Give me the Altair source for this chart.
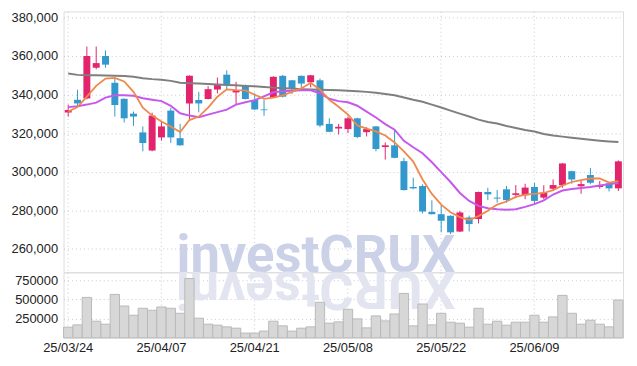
import altair as alt
import pandas as pd

# ---------------- data ----------------
dates = [
    "25/03/24", "25/03/25", "25/03/26", "25/03/27", "25/03/28", "25/03/31",
    "25/04/01", "25/04/02", "25/04/03", "25/04/04", "25/04/07", "25/04/08",
    "25/04/09", "25/04/10", "25/04/11", "25/04/14", "25/04/15", "25/04/16",
    "25/04/17", "25/04/18", "25/04/21", "25/04/22", "25/04/23", "25/04/24",
    "25/04/25", "25/04/28", "25/04/29", "25/04/30", "25/05/02", "25/05/07",
    "25/05/08", "25/05/09", "25/05/12", "25/05/13", "25/05/14", "25/05/15",
    "25/05/16", "25/05/19", "25/05/20", "25/05/21", "25/05/22", "25/05/23",
    "25/05/26", "25/05/27", "25/05/28", "25/05/29", "25/05/30", "25/06/02",
    "25/06/04", "25/06/05", "25/06/09", "25/06/10", "25/06/11", "25/06/12",
    "25/06/13", "25/06/16", "25/06/17", "25/06/18", "25/06/19", "25/06/20",
]

opens = [
    330700, 337300, 338000, 353900, 360000, 346100, 337800, 330100, 320400, 311000,
    317800, 331700, 317400, 335400, 337200, 337700, 342600, 350300, 341100, 344400,
    337200, 332300, 338500, 349700, 347400, 349700, 346400, 347400, 324800, 322400,
    322100, 327700, 320500, 323500, 312800, 313700, 305500, 292100, 292600, 279200,
    278000, 277200, 269000, 276300, 275500, 289500, 286600, 290900, 288000, 287800,
    292100, 286600, 291200, 293000, 300300, 292500, 298300, 292100, 294000, 291400,
]
highs = [
    334800, 342500, 364900, 364900, 362900, 348300, 338000, 331200, 323500, 330600,
    326000, 333200, 324800, 350000, 341400, 344400, 348800, 352600, 346600, 345200,
    340600, 337200, 349500, 350200, 347600, 349900, 350200, 348300, 327700, 324800,
    328600, 328000, 323100, 323700, 315200, 321800, 307200, 296900, 293500, 285200,
    282700, 277400, 279700, 277300, 289700, 291700, 290500, 292600, 293100, 293800,
    294300, 293000, 296000, 304500, 300500, 295200, 302000, 295200, 294200, 305900,
]
lows = [
    328600, 333700, 337500, 353100, 353900, 328600, 325500, 323800, 310600, 310600,
    316100, 314900, 313500, 327000, 330800, 337500, 340600, 342800, 334600, 337500,
    332000, 329000, 338300, 338500, 340300, 343100, 343700, 323100, 320500, 319300,
    320000, 317400, 318300, 310600, 306300, 307000, 290300, 290900, 278400, 277900,
    268600, 267700, 268800, 269100, 273200, 285300, 284000, 284000, 286300, 285800,
    283200, 285800, 290000, 291700, 293800, 288600, 293500, 291200, 289800, 290000,
]
closes = [
    332000, 335400, 360000, 356300, 355500, 334600, 327700, 328600, 314900, 329100,
    323500, 317800, 313700, 349700, 335400, 342800, 344900, 345400, 342300, 337700,
    332300, 331900, 349200, 338900, 343100, 345700, 350000, 324000, 320700, 323300,
    327700, 318000, 322100, 311800, 313700, 307200, 290500, 291400, 279400, 278000,
    274600, 268600, 278900, 272900, 289500, 288300, 286100, 285300, 288850, 291800,
    284900, 289200, 293100, 304300, 296000, 293600, 294300, 293100, 291400, 305400,
]
volumes = [
    138000, 168000, 526000, 216000, 177000, 565000, 414000, 293000, 384000, 358000,
    401000, 384000, 319000, 772000, 255000, 177000, 164000, 142000, 125000, 61000,
    61000, 87000, 216000, 155000, 87000, 125000, 142000, 462000, 190000, 207000,
    371000, 246000, 129000, 285000, 220000, 310000, 578000, 155000, 440000, 168000,
    319000, 203000, 190000, 138000, 384000, 177000, 216000, 164000, 203000, 203000,
    293000, 203000, 272000, 552000, 319000, 177000, 229000, 177000, 142000, 492000,
]
ma5 = [
    331200, 333500, 338900, 344500, 348300, 348600, 346800, 341400, 333200, 329100,
    326000, 323500, 320600, 326800, 328600, 333200, 338900, 342700, 342300, 342200,
    339900, 337800, 338400, 339600, 341400, 343200, 346100, 342500, 337300, 333700,
    329600, 324000, 322400, 320900, 318800, 315200, 310600, 305300, 296000, 288500,
    283000, 279000, 276500, 275000, 277000, 279800, 283000, 284600, 287000, 288200,
    288500, 289000, 290500, 292900, 294700, 295700, 296500, 296500, 294400, 295200,
]
ma20 = [
    333500, 334000, 334800, 335800, 338400, 339600, 339700, 339400, 338100, 337300,
    336600, 334200, 330300, 329100, 328300, 329600, 330900, 332200, 334800, 336000,
    337100, 339100, 341200, 341700, 342000, 342200, 342200, 340700, 337800, 336600,
    336000, 334200, 331200, 328100, 324700, 321800, 316000, 312700, 309600, 304900,
    299800, 294700, 289000, 284900, 282300, 281100, 280600, 280300, 280600, 281800,
    283200, 285200, 288200, 290300, 291100, 291600, 292100, 292900, 293600, 294200,
]
ma60 = [
    350900, 350200, 350000, 350000, 349900, 349800, 349600, 349200, 348500, 348000,
    347700, 347100, 346100, 345900, 345700, 345500, 345200, 345000, 344800, 344500,
    344300, 343900, 343600, 343300, 343100, 342800, 342600, 342500, 342400, 342200,
    342000, 341700, 341400, 340900, 340300, 339600, 338500, 337300, 336300, 334800,
    333300, 331700, 330100, 328600, 327000, 325800, 325000, 323700, 322700, 321600,
    320900, 319600, 318800, 318200, 317600, 317100, 316600, 316100, 315700, 315400,
]

label_dates = ["25/03/24", "25/04/07", "25/04/21", "25/05/08", "25/05/22", "25/06/09"]
price_ticks = [260000, 280000, 300000, 320000, 340000, 360000, 380000]
volume_ticks = [250000, 500000, 750000]
watermark = "investCRUX"

# ---------------- styling ----------------
UP = "#e2246c"
DOWN = "#3399cc"
W, H_PRICE, H_VOL = 564, 263, 66
AXIS_FONT = "Liberation Sans"

df = pd.DataFrame({
    "d": dates, "o": opens, "h": highs, "l": lows, "c": closes, "v": volumes,
    "ma5": ma5, "ma20": ma20, "ma60": ma60,
})
df["dir"] = ["up" if c >= o else "down" for o, c in zip(opens, closes)]

xscale = alt.Scale(type="band", domain=dates, paddingInner=0, paddingOuter=0)
grid_axis = dict(grid=True, gridColor="#c5c9dd", gridDash=[1, 3], gridWidth=1,
                 ticks=False, domain=False, title=None, bandPosition=0.5)

x_price = alt.X("d:O", scale=xscale, sort=dates,
                axis=alt.Axis(values=label_dates, labels=False, **grid_axis))
x_vol = alt.X("d:O", scale=xscale, sort=dates,
              axis=alt.Axis(values=label_dates, labels=True, labelAngle=0,
                            labelFont=AXIS_FONT, labelFontSize=13, labelColor="#222",
                            labelPadding=4, labelOverlap=False, **grid_axis))

yscale = alt.Scale(domain=[247900, 383100], nice=False, zero=False)
y_axis = alt.Axis(values=price_ticks, format=",d", title=None, grid=True,
                  gridColor="#c5c9dd", gridDash=[1, 3], ticks=False, domain=False,
                  labelFont=AXIS_FONT, labelFontSize=13, labelColor="#222", labelPadding=6)
color = alt.Color("dir:N", scale=alt.Scale(domain=["up", "down"], range=[UP, DOWN]), legend=None)

base = alt.Chart(df)

# watermark (main text)
wm = alt.Chart(pd.DataFrame({"t": [watermark]})).mark_text(
    font="Roboto", fontWeight="bold", fontSize=53, color="#cbd1e7",
    align="center", baseline="alphabetic"
).encode(x=alt.value(254.4), y=alt.value(H_PRICE), text="t:N")

wick = base.mark_rule(strokeWidth=1).encode(
    x=x_price, y=alt.Y("l:Q", scale=yscale, axis=y_axis), y2="h:Q", color=color)
body = base.mark_bar(size=7).encode(x=x_price, y="o:Q", y2="c:Q", color=color)
l60 = base.mark_line(color="#7f7f7f", strokeWidth=2).encode(x=x_price, y="ma60:Q")
l20 = base.mark_line(color="#c658ec", strokeWidth=2).encode(x=x_price, y="ma20:Q")
l5 = base.mark_line(color="#f0884c", strokeWidth=1.8).encode(x=x_price, y="ma5:Q")

price = alt.layer(wm, wick, body, l60, l20, l5).properties(width=W, height=H_PRICE)

# watermark reflection: each letter mirrored below the panel line
adv = {"i": 0.259, "n": 0.556, "v": 0.510, "e": 0.537, "s": 0.523, "t": 0.332,
       "C": 0.669, "R": 0.642, "U": 0.660, "X": 0.637}
fs = 53
cap = 0.711 * fs
total = sum(adv[ch] for ch in watermark) * fs
cur = 254.4 - total / 2
refl_layers = []
for ch in watermark:
    w = adv[ch] * fs
    cx = cur + w / 2
    cur += w
    if ch == "C":
        # C is symmetric top/bottom: its mirror is the letter itself
        mk = dict(angle=0)
        ypos = cap
    else:
        mk = dict(angle=180)
        ypos = 0
    refl_layers.append(
        alt.Chart(pd.DataFrame({"t": [ch]})).mark_text(
            font="Roboto", fontWeight="bold", fontSize=fs, color="#e2e5f0",
            align="center", baseline="alphabetic", **mk
        ).encode(x=alt.value(cx), y=alt.value(ypos), text="t:N")
    )

vol_bars = base.mark_bar(fill="#d7d7d7", stroke="#b9b9b9", strokeWidth=1).encode(
    x=x_vol,
    y=alt.Y("v:Q", scale=alt.Scale(domain=[0, 853000], nice=False),
            axis=alt.Axis(values=volume_ticks, format="d", title=None, grid=True,
                          gridColor="#c5c9dd", gridDash=[1, 3], ticks=False, domain=False,
                          labelFont=AXIS_FONT, labelFontSize=13, labelColor="#222",
                          labelPadding=6)),
)
volume = alt.layer(*refl_layers, vol_bars).properties(width=W, height=H_VOL)

chart = alt.vconcat(price, volume, spacing=0, bounds="flush").properties(
    padding={"left": 2, "top": 1, "right": 5, "bottom": 5}
).configure_view(stroke="#cccccc", strokeWidth=1).configure(background="white")

chart.save("out.html", embed_options={"renderer": "svg", "actions": False})
